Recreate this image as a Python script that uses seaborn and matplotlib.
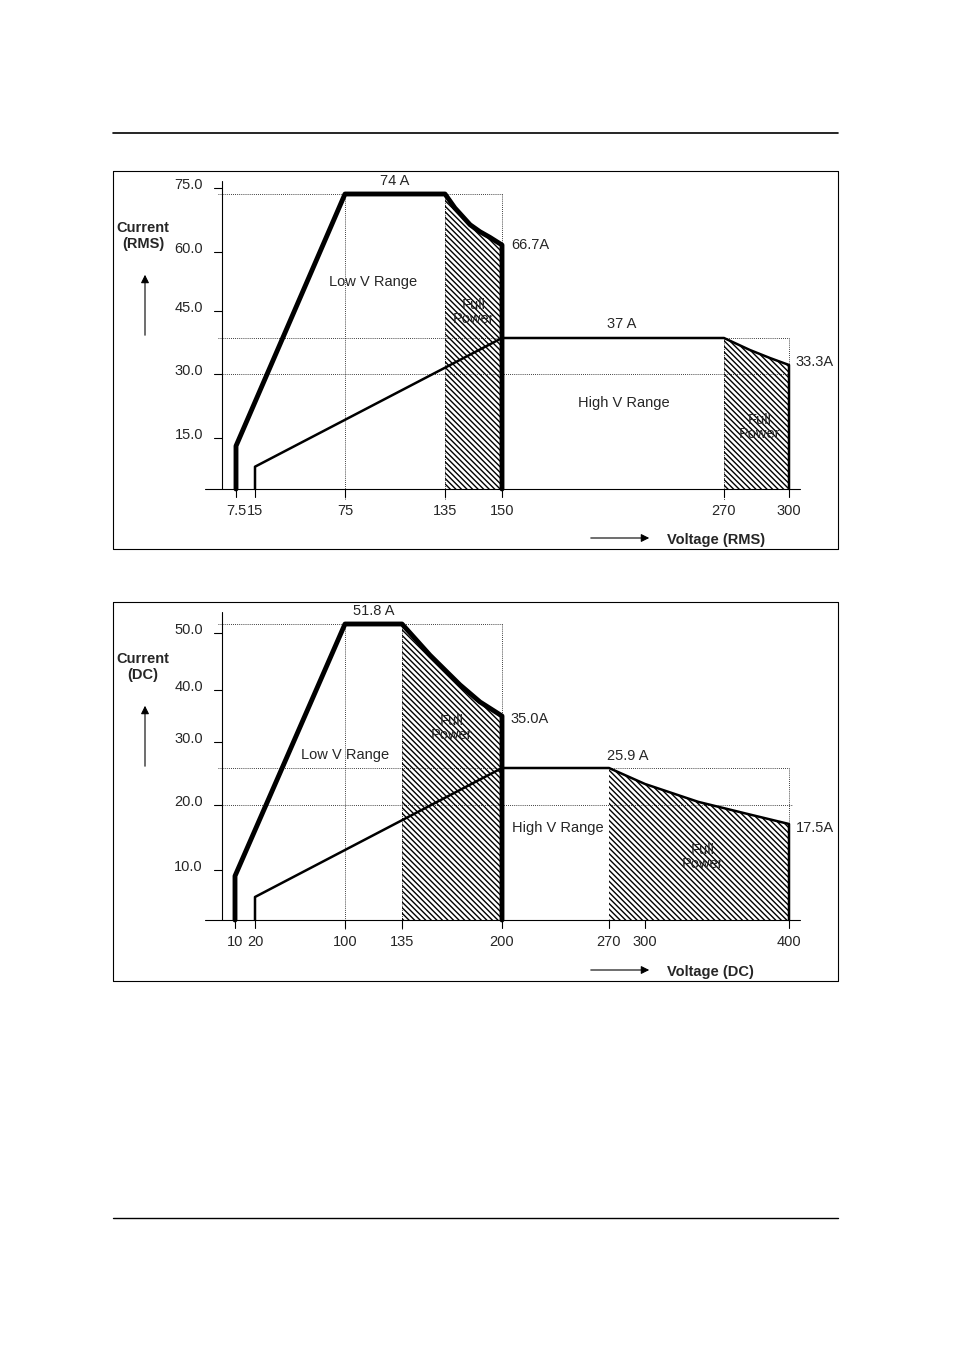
import numpy as np
import matplotlib
matplotlib.use("Agg")
import matplotlib.pyplot as plt
import seaborn as sns

sns.set_theme(style="white", rc={"font.family": "Liberation Sans"})

# ---------------- data ----------------
ac_v_ticks = [7.5, 15, 75, 135, 150, 270, 300]
ac_v_labels = ["7.5", "15", "75", "135", "150", "270", "300"]
ac_i_ticks = [15.0, 30.0, 45.0, 60.0, 75.0]
ac_low_v = [7.5, 7.5, 75, 135, 137.6, 141.6, 144.2, 146.8, 150, 150]
ac_low_i = [0, 13.3, 74, 74, 72.0, 69.6, 68.6, 67.8, 66.7, 0]
ac_high_v = [15, 15, 150, 270, 282, 291.2, 300, 300]
ac_high_i = [0, 8.2, 37, 37, 35.35, 34.26, 33.3, 0]

dc_v_ticks = [10, 20, 100, 135, 200, 270, 300, 400]
dc_v_labels = ["10", "20", "100", "135", "200", "270", "300", "400"]
dc_i_ticks = [10.0, 20.0, 30.0, 40.0, 50.0]
dc_low_v = [10, 10, 100, 135, 153.2, 172.7, 185.7, 200, 200]
dc_low_i = [0, 8.6, 51.8, 51.8, 46.1, 40.9, 37.7, 35.0, 0]
dc_high_v = [20, 20, 200, 270, 300, 337, 371.7, 400, 400]
dc_high_i = [0, 5.5, 25.9, 25.9, 23.35, 20.5, 18.8, 17.5, 0]

# pixel calibration of the (non-linear) drawn axes
ac_xmap = ([0, 7.5, 15, 75, 135, 150, 270, 300, 320], [222, 236, 255, 345, 445, 502, 724, 789, 800])
ac_ymap = ([0, 13.3, 15, 30, 33.3, 37, 45, 60, 66.7, 74, 75], [500, 446, 438, 374, 365, 338, 311, 252, 245, 194, 188])
dc_xmap = ([0, 10, 20, 100, 135, 200, 270, 300, 400, 420], [222, 235, 255, 345, 402, 502, 609, 645, 789, 800])
dc_ymap = ([0, 5.5, 8.6, 10, 17.5, 20, 25.9, 30, 35, 40, 50, 51.8], [930, 897, 876, 870, 824, 805, 768, 742, 716, 690, 633, 624])

fig = plt.figure(figsize=(9.54, 13.51), dpi=100)
ax = fig.add_axes([0, 0, 1, 1])
ax.set_xlim(0, 954)
ax.set_ylim(1351, 0)
ax.axis("off")

# page rules
ax.plot([113, 838], [133, 133], color="black", lw=1.2)
ax.plot([113, 838], [1218, 1218], color="black", lw=1)

FS = 10.5

def chart(box, xmap, ymap, vt, vl, it, low_v, low_i, high_v, high_i,
          hatch1, hatch2, dotted, axis_y, texts, ylab, xlab, arr_y, xlab_y):
    X = lambda v: np.interp(v, *xmap)
    Y = lambda i: np.interp(i, *ymap)
    x0, y0, x1, y1 = box
    ax.plot([x0, x1, x1, x0, x0], [y0, y0, y1, y1, y0], color="black", lw=0.8)
    ax.plot([222, 222], [y0 + 10, axis_y], color="black", lw=0.8)
    ax.plot([205, 800], [axis_y, axis_y], color="black", lw=0.8)
    for v, l in zip(vt, vl):
        ax.plot([X(v), X(v)], [axis_y, axis_y + 8], color="black", lw=0.8)
        ax.text(X(v), axis_y + 22, l, ha="center", va="center", fontsize=FS)
    for i in it:
        ax.plot([214, 222], [Y(i), Y(i)], color="black", lw=0.8)
        ax.text(203, Y(i) - 3, f"{i:.1f}", ha="right", va="center", fontsize=FS)
    for (va, ia, vb, ib) in dotted:
        ax.plot([X(va) if va is not None else 218, X(vb)], [Y(ia), Y(ib)],
                color="black", lw=0.6, ls=(0, (1, 1.5)))
    for (a, b, vv, ii) in (hatch1 + hatch2):
        vs = np.array(vv); iss = np.array(ii)
        m = (vs >= a) & (vs <= b) & (iss > 0)
        xs = X(vs[m]); ys = Y(iss[m])
        ax.fill(np.r_[xs, xs[-1], xs[0]], np.r_[ys, axis_y, axis_y],
                facecolor="none", edgecolor="black", hatch="\\\\\\\\\\\\", lw=0)
    lx, ly = X(np.array(low_v)), Y(np.array(low_i))
    ly[0] = axis_y; ly[-1] = axis_y
    ax.plot(lx, ly, color="black", lw=3.5, solid_joinstyle="round")
    hx, hy = X(np.array(high_v)), Y(np.array(high_i))
    hy[0] = axis_y; hy[-1] = axis_y
    ax.plot(hx, hy, color="black", lw=1.8, solid_joinstyle="round")
    for (tx, ty, s) in texts:
        ax.text(tx, ty, s, ha="center", va="center", fontsize=FS, linespacing=1.0)
    ax.text(143, ylab[1], ylab[0], ha="center", va="center", fontsize=FS,
            fontweight="bold", linespacing=1.2)
    ax.annotate("", xy=(145, arr_y[1]), xytext=(145, arr_y[0]),
                arrowprops=dict(arrowstyle="-|>", color="black", lw=0.8))
    ax.annotate("", xy=(652, xlab_y - 2), xytext=(588, xlab_y - 2),
                arrowprops=dict(arrowstyle="-|>", color="black", lw=0.8))
    ax.text(667, xlab_y, xlab, ha="left", va="center", fontsize=FS, fontweight="bold")

chart((113, 171, 838, 549), ac_xmap, ac_ymap, ac_v_ticks, ac_v_labels, ac_i_ticks,
      ac_low_v, ac_low_i, ac_high_v, ac_high_i,
      [(135, 150, ac_low_v, ac_low_i)], [(270, 300, ac_high_v, ac_high_i)],
      [(None, 74, 150, 74), (75, 74, 75, 0), (135, 74, 135, 0), (150, 74, 150, 37),
       (None, 37, 300, 37), (300, 37, 300, 33.3), (None, 30, 300, 30), (270, 37, 270, 0)],
      489,
      [(395, 181, "74 A"), (530, 245, "66.7A"), (373, 282, "Low V Range"),
       (474, 312, "Full\nPower"), (622, 324, "37 A"), (815, 362, "33.3A"),
       (624, 403, "High V Range"), (760, 427, "Full\nPower")],
      ("Current\n(RMS)", 236), "Voltage (RMS)", (338, 272), 540)

chart((113, 602, 838, 981), dc_xmap, dc_ymap, dc_v_ticks, dc_v_labels, dc_i_ticks,
      dc_low_v, dc_low_i, dc_high_v, dc_high_i,
      [(135, 200, dc_low_v, dc_low_i)], [(270, 400, dc_high_v, dc_high_i)],
      [(None, 51.8, 200, 51.8), (100, 51.8, 100, 0), (135, 51.8, 135, 0), (200, 51.8, 200, 25.9),
       (None, 25.9, 400, 25.9), (400, 25.9, 400, 17.5), (None, 20, 405, 20)],
      920,
      [(374, 611, "51.8 A"), (530, 719, "35.0A"), (452, 728, "Full\nPower"),
       (345, 755, "Low V Range"), (628, 756, "25.9 A"), (558, 828, "High V Range"),
       (703, 857, "Full\nPower"), (815, 828, "17.5A")],
      ("Current\n(DC)", 667), "Voltage (DC)", (769, 703), 972)

fig.savefig("out.png", dpi=100)
